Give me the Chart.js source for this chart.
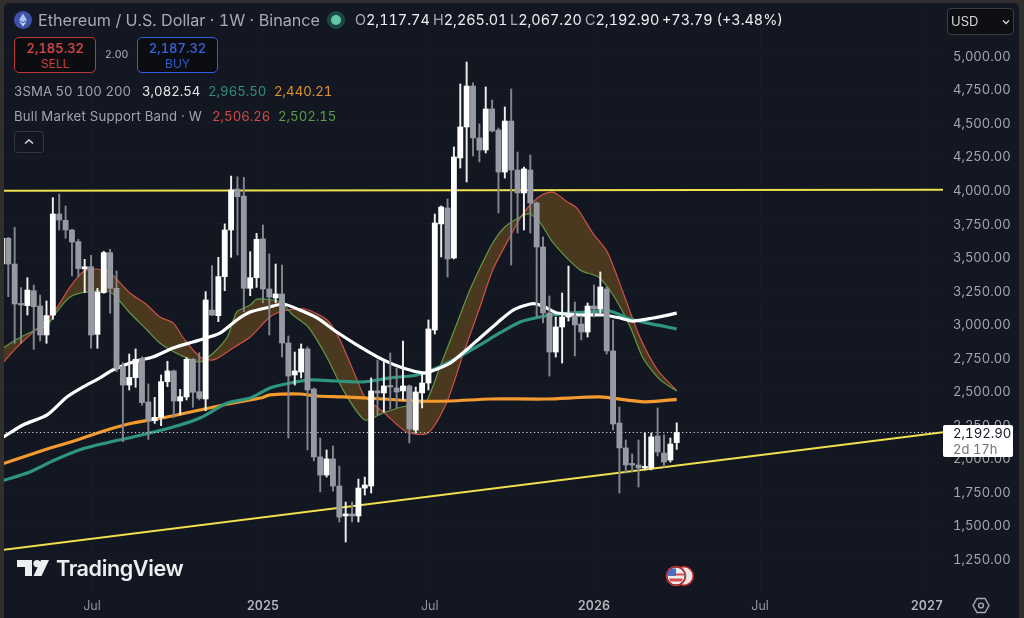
<!DOCTYPE html>
<html>
<head>
<meta charset="utf-8">
<title>ETHUSD 1W</title>
<script src="https://cdn.jsdelivr.net/npm/chart.js@4/dist/chart.umd.min.js"></script>
<style>
html,body{margin:0;padding:0;width:1024px;height:618px;overflow:hidden;background:#302f2d;font-family:Inter,Roboto,sans-serif;font-feature-settings:"tnum"}
#panel{position:absolute;left:4px;top:3px;width:1015px;height:620px;background:#131722;border-radius:5px 5px 0 0}
#chart{position:absolute;left:0;top:0}
.t{position:absolute;white-space:nowrap;line-height:1}
.box{position:absolute;box-sizing:border-box;background:#0c0d11;border-radius:5px;text-align:center;border:1px solid}
.box div{line-height:1}
svg{position:absolute}
</style>
</head>
<body>
<div id="panel"></div>
<canvas id="chart" width="1024" height="618"></canvas>

<svg style="left:14px;top:11px" width="18" height="18" viewBox="0 0 18 18"><circle cx="9" cy="9" r="9" fill="#3d52a8"/><path d="M9 2.5 13 9 9 11.3 5 9Z" fill="#a9c4ee"/><path d="M9 12.4 13 10 9 15.5 5 10Z" fill="#d7e4f7"/></svg>
<div class="t" style="left:38px;top:12px;font-size:16.2px;color:#a6aab4">Ethereum / U.S. Dollar · 1W · Binance</div>
<svg style="left:327px;top:11px" width="18" height="18" viewBox="0 0 18 18"><circle cx="9" cy="9" r="9" fill="#1d4743"/><circle cx="9" cy="9" r="5" fill="#62c9a8"/></svg>
<div class="t" id="ohlc" style="left:355px;top:13px;font-size:14.4px;color:#eceef2"></div>

<div class="box" style="left:14px;top:37px;width:82px;height:36px;border-color:#b8383b">
 <div style="margin-top:4px;font-size:13px;font-weight:500;color:#d8474a">2,185.32</div>
 <div style="margin-top:3px;font-size:12px;color:#c2403f">SELL</div>
</div>
<div class="t" style="left:105px;top:50px;font-size:10.5px;color:#b3b6bd">2.00</div>
<div class="box" style="left:137px;top:37px;width:81px;height:36px;border-color:#2f5fdc">
 <div style="margin-top:4px;font-size:13px;font-weight:500;color:#3464e0">2,187.32</div>
 <div style="margin-top:3px;font-size:12px;color:#2f5bcf">BUY</div>
</div>

<div class="t" style="left:14px;top:85px;font-size:13.2px;color:#a0a4ae">3SMA 50 100 200</div>
<div class="t" style="left:142px;top:85px;font-size:13.2px;color:#e6e7ea">3,082.54</div>
<div class="t" style="left:208px;top:85px;font-size:13.2px;color:#2f8f7c">2,965.50</div>
<div class="t" style="left:274px;top:85px;font-size:13.2px;color:#e0922e">2,440.21</div>
<div class="t" style="left:14px;top:110px;font-size:13.2px;letter-spacing:.2px;color:#a0a4ae">Bull Market Support Band · W</div>
<div class="t" style="left:212px;top:110px;font-size:13.2px;color:#d24a46">2,506.26</div>
<div class="t" style="left:278px;top:110px;font-size:13.2px;color:#5d9c48">2,502.15</div>
<div style="position:absolute;left:14px;top:131px;width:30px;height:22px;box-sizing:border-box;border:1px solid #33363f;border-radius:3px"></div>
<svg style="left:24px;top:138px" width="10" height="7" viewBox="0 0 10 7"><path d="M1 5.5 5 2 9 5.5" fill="none" stroke="#d8dade" stroke-width="1.5"/></svg>

<div style="position:absolute;left:947px;top:8px;width:67px;height:27px;box-sizing:border-box;background:#0e0f13;border:1px solid #3c3e44;border-radius:4px"></div>
<div class="t" style="left:951px;top:15px;font-size:13px;color:#d4d6da">USD</div>
<svg style="left:1002px;top:19px" width="8" height="6" viewBox="0 0 8 6"><path d="M1 1.5 4 4.5 7 1.5" fill="none" stroke="#d4d6da" stroke-width="1.3"/></svg>

<div style="position:absolute;left:943px;top:425px;width:70px;height:32px;background:#fff;border-radius:2px"></div>
<div class="t" style="left:953px;top:427px;font-size:13.2px;color:#131722">2,192.90</div>
<div class="t" style="left:953px;top:443px;font-size:13px;color:#6f737c">2d 17h</div>

<svg style="left:17px;top:560px" width="32" height="17" viewBox="0 0 32 17"><path d="M0 0H15V16H8V7H0Z" fill="#eceef0"/><circle cx="20" cy="3.6" r="3.6" fill="#eceef0"/><path d="M24 0H32L24.5 16H16.5Z" fill="#eceef0"/></svg>
<div class="t" style="left:56px;top:558px;font-size:21.6px;font-weight:600;letter-spacing:-.4px;color:#eceef0">TradingView</div>

<svg style="left:664px;top:564px" width="32" height="24" viewBox="0 0 32 24"><circle cx="20" cy="12" r="9.2" fill="#e8e6e6" stroke="#c8322f" stroke-width="1.6"/><circle cx="12" cy="12" r="9.6" fill="#131722"/><circle cx="12" cy="12" r="8.6" fill="#eee"/><path d="M5 14.5H19L17.6 17.5H6.4Z" fill="#d74d4d"/><path d="M4 9.5H20V11.5H4Z" fill="#d74d4d"/><path d="M4.6 4.5H12V12H3.6Z" fill="#4a70c4"/><circle cx="12" cy="12" r="9.6" fill="none" stroke="#c8322f" stroke-width="1.5"/></svg>

<svg style="left:972px;top:597px" width="18" height="17" viewBox="0 0 18 17"><path d="M5 1.5H13L17 8.5 13 15.5H5L1 8.5Z" fill="none" stroke="#a8abb2" stroke-width="1.4"/><circle cx="9" cy="8.5" r="2.4" fill="none" stroke="#a8abb2" stroke-width="1.4"/></svg>

<script>
const opens=[3449,3641,3449,3151,3139,3250,3136,2920,3069,3822,3775,3703,3616,3412,3429,2925,3236,3534,3268,2684,2547,2602,2746,2421,2281,2306,2572,2652,2428,2458,2739,2498,2443,3106,3064,3355,3703,4008,3956,3268,3347,3636,3263,3196,3226,2860,2622,2644,2816,2517,2011,1876,1996,1794,1571,1586,1571,1779,1794,2503,2488,2540,2525,2503,2540,2212,2488,2562,2957,3748,3867,3494,4240,4471,4776,4389,4299,4605,4448,4135,4515,4150,3979,4150,3904,3576,3084,2793,2980,3054,3062,3002,2942,3136,3114,3263,2801,2264,2078,1958,1951,1929,1929,2167,2040,1988,2117.74];
const closes=[3641,3449,3151,3144,3255,3131,2920,3064,3822,3777,3703,3613,3415,3429,2920,3241,3534,3268,2671,2547,2604,2739,2416,2281,2306,2572,2652,2428,2460,2739,2493,2448,3181,3069,3355,3703,4001,3951,3268,3347,3633,3263,3203,3226,2860,2614,2652,2816,2510,2011,1876,1996,1794,1563,1586,1571,1779,1802,2503,2488,2540,2532,2495,2540,2219,2495,2562,2965,3755,3874,3487,4247,4471,4776,4389,4299,4605,4441,4135,4515,4150,3979,4158,3904,3576,3084,2793,2980,3054,3062,2995,2942,3136,3114,3278,2801,2257,2078,1951,1951,1929,1936,2160,2048,1973,2107,2192.90];
const highs=[3653,3648,3723,3273,3347,3293,3218,3174,3944,3971,3882,3708,3633,3484,3514,3268,3544,3559,3397,2714,2778,2816,2758,2555,2455,2622,2724,2659,2515,2751,2746,2788,3243,3437,3499,3748,4105,4100,4095,3541,3678,3740,3524,3449,3442,2913,2793,2853,2831,2525,2152,2063,2093,1943,1675,1675,1846,1861,2600,2734,2726,2786,2674,2875,2547,2532,2629,3032,3822,3882,3934,4322,4791,4955,4799,4493,4769,4672,4463,4620,4754,4284,4172,4262,3912,3651,3211,3054,3233,3434,3166,3062,3159,3293,3390,3278,3032,2383,2137,2033,2137,2189,2189,2376,2175,2152,2265.01];
const lows=[3430,3206,2858,2858,3069,2813,2875,2858,3037,3703,3641,3360,3355,3236,2821,2821,3231,3082,2647,2125,2510,2530,2396,2142,2261,2244,2535,2306,2324,2436,2381,2436,2356,3064,3019,3250,3499,3516,3094,3213,3275,3159,2920,3159,2756,2152,2547,2600,2063,1981,1750,1861,1757,1526,1377,1526,1526,1727,1742,2324,2346,2368,2376,2436,2115,2189,2376,2510,2927,3502,3352,3487,4165,4061,4255,4210,4277,4433,3830,4090,3442,3680,3703,3680,3054,3010,2614,2756,2711,3024,2764,2883,2905,3054,3084,2778,2212,1742,1891,1899,1787,1914,1914,2018,1936,1973,2067.20];

const sma50Weeks=[0,3.3,7.1,10.2,12.7,15.4,17.4,20.6,23.7,26.9,30,31.6,34.3,36.9,39,42.1,44.2,46.8,49.5,52.6,55.8,59.9,63,66.1,67.1,70.4,73.5,75.1,77.8,80.3,83,84,85.6,87.2,90.8,94.4,97.1,99.1,102.3,106];
const sma50=[2152,2249,2324,2458,2532,2600,2659,2719,2756,2823,2868,2890,2935,3032,3091,3129,3151,3106,3047,2942,2845,2734,2674,2637,2644,2711,2831,2898,3010,3106,3151,3151,3121,3084,3069,3069,3047,3024,3047,3082.54];
const sma100Weeks=[0,4.4,8.3,12.6,17,20.6,26.9,31.1,35.4,39,42.1,45.3,48.4,52.6,56.7,61,65.2,68.3,71.5,75.1,78.2,81.4,84.5,87.7,91.9,95.5,98.2,101.3,106];
const sma100=[1832,1899,1988,2070,2122,2160,2234,2301,2413,2450,2525,2562,2585,2577,2570,2600,2622,2674,2749,2846,2935,3017,3054,3077,3091,3099,3047,3010,2965.50];
const sma200Weeks=[0,7.1,11.8,16.5,20.6,25.9,31.1,36.3,40.6,42.1,46.8,49.5,53.6,59.9,65.2,70.4,76.7,85.6,93.9,98.2,101.3,106];
const sma200=[1958,2070,2137,2212,2264,2309,2361,2413,2450,2473,2480,2465,2458,2443,2428,2428,2443,2443,2458,2435,2421,2440.21];
const bandRedWeeks=[0,2.4,4.9,6.5,8.6,10.7,12.7,14.9,17,20.1,22.8,24.8,26.9,28.4,31.1,33.2,36.3,39,42.1,44.2,47.6,51.1,53.1,55.8,57,59.9,63.6,66.9,69.9,72.4,75.1,77.1,79.8,81.9,84.1,85.6,86.9,88.8,90.3,92.8,95.1,97.6,100.2,103,106];
const bandRed=[2704,2831,2942,3010,3121,3278,3390,3412,3382,3233,3144,3054,3010,2905,2756,2734,2823,2905,3054,3099,3114,3032,2883,2585,2458,2346,2197,2189,2421,2771,3129,3405,3651,3829,3941,3979,3979,3912,3867,3680,3539,3233,2905,2659,2506.26];
const bandGreenWeeks=[0,2.4,4.9,7.1,8.6,10.7,13.4,17,20.1,22.8,24.8,28,31.1,33.2,35.4,36.9,39,40.1,43.7,45.7,48.1,51.1,53.6,57,59.9,62.8,65.7,66.8,68.8,71.5,73.5,75.1,77.1,79,81.4,82.9,84.5,86.6,90.8,93.7,96,98.7,100.7,103.4,106];
const bandGreen=[2816,2890,2950,2995,3092,3203,3241,3241,3084,2957,2860,2771,2719,2786,2905,3092,3144,3188,3166,3069,2980,2749,2510,2286,2339,2383,2413,2435,2681,3010,3255,3420,3606,3725,3800,3822,3762,3606,3405,3352,3218,2980,2749,2585,2502.15];

const lineWeeks=[0,147.83];
const resistance=[3995,4003];
const support=[1317,2195];
const lastPrice=[2192.90,2192.90];

const xTickWeeks=[14.15,41,67.2,93,119.1,145.3];
const xTickLabels=["Jul","2025","Jul","2026","Jul","2027"];
const yTicks=[1250,1500,1750,2000,2250,2500,2750,3000,3250,3500,3750,4000,4250,4500,4750,5000];

document.getElementById("ohlc").innerHTML=[["O","2,117.74",0],["H","2,265.01",78],["L","2,067.20",155],["C","2,192.90",230],["","+73.79 (+3.48%)",307]]
 .map(p=>'<span style="position:absolute;left:'+p[2]+'px"><span style="color:#a6aab4">'+p[0]+'</span>'+p[1]+'</span>').join("");

function pts(xs,ys){return xs.map((x,i)=>({x:x,y:ys[i]}));}
function line(xs,ys,color,width,order,extra){
 return Object.assign({type:"line",data:pts(xs,ys),borderColor:color,borderWidth:width,pointRadius:0,tension:0.25,fill:false,order:order},extra||{});
}
function isYear(ctx){return !!ctx.tick && /^20/.test(ctx.tick.label);}
function noPadding(s){s.paddingTop=0;s.paddingBottom=0;s.paddingLeft=0;s.paddingRight=0;}

const up=opens.map((o,i)=>closes[i]>=o);
const bodies=opens.map((o,i)=>({x:i,y:[o,closes[i]]}));
const wicks=lows.map((l,i)=>({x:i,y:[l,highs[i]]}));
const bandFill="#4a391f";

const chart=new Chart(document.getElementById("chart"),{
 type:"bar",
 data:{datasets:[
  line(bandRedWeeks,bandRed,"#d0504a",1.2,9,{fill:{target:"+1",above:bandFill,below:bandFill}}),
  line(bandGreenWeeks,bandGreen,"#5f9a45",1.2,8),
  line(sma200Weeks,sma200,"#f59a2f",3.2,7),
  line(sma100Weeks,sma100,"#2e957f",3.2,6),
  line(sma50Weeks,sma50,"#ffffff",3.2,5),
  line(lineWeeks,resistance,"#f1e14e",2.1,4,{tension:0}),
  line(lineWeeks,support,"#f1e14e",2.1,4,{tension:0}),
  line(lineWeeks,lastPrice,"#d6d8dc",1.2,3,{tension:0,borderDash:[1.2,2.6]}),
  {type:"bar",data:wicks,backgroundColor:up.map(u=>u?"#eeeeee":"#82858e"),barThickness:1.3,grouped:false,order:2},
  {type:"bar",data:bodies,backgroundColor:up.map(u=>u?"#ffffff":"#979aa3"),barThickness:5.2,grouped:false,minBarLength:1.5,order:1}
 ]},
 options:{
  responsive:false,
  animation:false,
  layout:{padding:{left:4,top:3,right:4,bottom:0}},
  plugins:{legend:{display:false},tooltip:{enabled:false}},
  scales:{
   x:{
    type:"linear",offset:false,min:0.325,max:147.83,
    grid:{offset:false,color:"#171b26",drawTicks:false},border:{display:false},
    afterBuildTicks:s=>{s.ticks=xTickWeeks.map(v=>({value:v}));},
    afterFit:s=>{s.height=26;noPadding(s);},
    ticks:{
     autoSkip:false,maxRotation:0,padding:7,
     callback:(v,i)=>xTickLabels[i],
     color:ctx=>isYear(ctx)?"#b4b7be":"#8f939c",
     font:ctx=>({family:"Inter",size:12.5,weight:isYear(ctx)?"600":"400"})
    }
   },
   y:{
    position:"right",min:1004,max:5395,
    grid:{color:"#171b26",drawTicks:false},border:{display:false},
    afterBuildTicks:s=>{s.ticks=yTicks.map(v=>({value:v}));},
    afterFit:s=>{s.width=77;noPadding(s);},
    ticks:{
     autoSkip:false,padding:10,labelOffset:1,color:"#a3a6ae",font:{family:"Inter",size:13},
     callback:v=>v.toLocaleString("en-US",{minimumFractionDigits:2})
    }
   }
  }
 }
});
</script>
</body>
</html>
